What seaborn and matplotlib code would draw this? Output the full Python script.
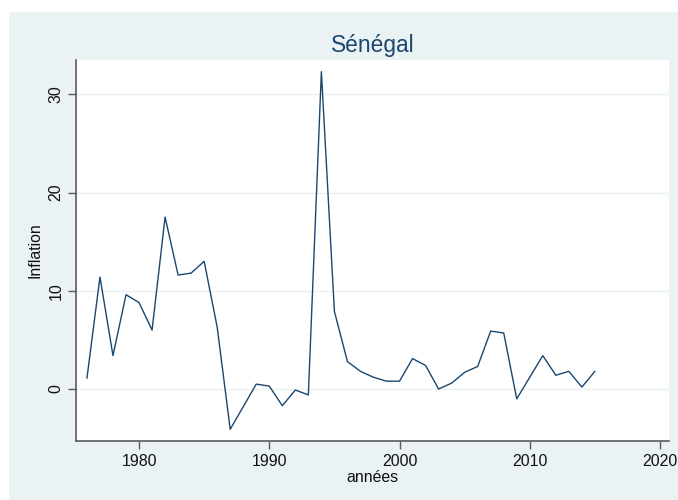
import pandas as pd
import matplotlib.pyplot as plt
import seaborn as sns
from matplotlib.patches import Rectangle

# Inflation series
years = list(range(1976, 2016))
inflation = [
    1.1, 11.4, 3.4, 9.6, 8.8, 6.0, 17.5, 11.6, 11.8, 13.0,
    6.3, -4.1, -1.8, 0.5, 0.3, -1.7, -0.1, -0.6, 32.3, 7.9,
    2.8, 1.8, 1.2, 0.8, 0.8, 3.1, 2.4, 0.0, 0.6, 1.7,
    2.3, 5.9, 5.7, -1.0, 1.2, 3.4, 1.4, 1.8, 0.2, 1.8,
]
x_ticks = [1980, 1990, 2000, 2010, 2020]
y_ticks = [0, 10, 20, 30]

df = pd.DataFrame({"annees": years, "inflation": inflation})

sns.set_theme(style="white")
plt.rcParams["font.family"] = ["Liberation Sans", "DejaVu Sans"]

bg = "#eaf2f3"
navy = "#1a476f"

fig = plt.figure(figsize=(6.78, 5.0), dpi=100)
fig.patch.set_facecolor("white")

# Stata-like graph region, kept behind the axes
graph_region = Rectangle((9 / 678, 0), 1 - 9 / 678, 1 - 12 / 500,
                         transform=fig.transFigure, facecolor=bg,
                         edgecolor="none", zorder=-10)
fig.add_artist(graph_region)

ax = fig.add_axes([76 / 678, 1 - 441 / 500, (669 - 76) / 678, (441 - 60) / 500])
ax.set_zorder(1)
ax.set_facecolor("white")

sns.lineplot(data=df, x="annees", y="inflation", ax=ax, color=navy, linewidth=1.0)

ax.set_xlim(1975.16, 2020.69)
ax.set_ylim(-5.29, 33.49)
ax.set_xticks(x_ticks)
ax.set_yticks(y_ticks)
ax.set_yticklabels([str(v) for v in y_ticks], rotation=90, va="center")

ax.grid(axis="y", color=bg, linewidth=1.0)
ax.grid(axis="x", visible=False)
for side in ["top", "right"]:
    ax.spines[side].set_visible(False)
for side in ["left", "bottom"]:
    ax.spines[side].set_color("#5a5a5a")
    ax.spines[side].set_linewidth(1.2)

ax.tick_params(axis="both", which="major", direction="out", length=6, width=1,
               color="#5a5a5a", labelsize=11.4, labelcolor="#111111", pad=3)
ax.tick_params(axis="x", bottom=True)
ax.tick_params(axis="y", left=True)

ax.set_xlabel("années", fontsize=11.4, color="#111111", labelpad=1)
ax.set_ylabel("Inflation", fontsize=11.4, color="#111111", labelpad=4)
ax.set_title("Sénégal", fontsize=16.4, color=navy, pad=6)

fig.savefig("out.png", dpi=100, facecolor=fig.get_facecolor())
